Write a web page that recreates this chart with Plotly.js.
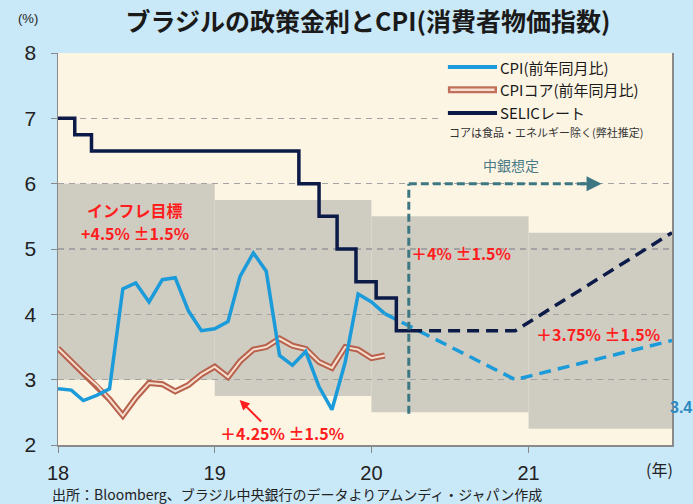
<!DOCTYPE html>
<html>
<head>
<meta charset="utf-8">
<script src="https://cdn.plot.ly/plotly-3.0.1.min.js"></script>
<style>html,body{margin:0;padding:0;background:#c9e8f8;}#chart{width:693px;height:504px;}</style>
</head>
<body>
<div id="chart"></div>
<script>
// ---- data ----
const months = ['2018-01-01','2018-02-01','2018-03-01','2018-04-01','2018-05-01','2018-06-01','2018-07-01','2018-08-01','2018-09-01','2018-10-01','2018-11-01','2018-12-01',
                '2019-01-01','2019-02-01','2019-03-01','2019-04-01','2019-05-01','2019-06-01','2019-07-01','2019-08-01','2019-09-01','2019-10-01','2019-11-01','2019-12-01',
                '2020-01-01','2020-02-01'];
const cpi = [2.86,2.84,2.68,2.76,2.86,4.39,4.48,4.19,4.53,4.56,4.05,3.75,
             3.78,3.89,4.58,4.94,4.66,3.37,3.22,3.43,2.89,2.54,3.27,4.31,
             4.19,4.01];
const cpiCore = [3.48,3.28,3.10,2.92,2.70,2.45,2.72,2.95,2.93,2.82,2.92,3.08,
                 3.20,3.04,3.28,3.46,3.50,3.63,3.52,3.47,3.27,3.18,3.50,3.46,
                 3.33,3.37];
const selicDates = ['2018-01-01','2018-02-09','2018-03-20','2019-07-16','2019-09-01','2019-10-13','2019-11-26','2020-01-12','2020-02-28','2020-03-31'];
const selicRates = [7.0,6.75,6.5,6.0,5.5,5.0,4.5,4.25,3.75,3.75];
const cpiProjDates = ['2020-02-01','2020-12-01','2021-12-01'];
const cpiProj = [4.01,3.0,3.6];
const selicProjDates = ['2020-03-31','2020-12-01','2021-12-01'];
const selicProj = [3.75,3.75,5.25];
const targetStart = ['2018-01-01','2019-01-01','2020-01-01','2021-01-01'];
const targetEnd = ['2019-01-01','2020-01-01','2021-01-01','2021-12-01'];
const targetCenter = [4.5,4.25,4.0,3.75];
const targetTol = 1.5;
const yearTicks = ['2018-01-01','2019-01-01','2020-01-01','2021-01-01'];
const yearLabels = ['18','19','20','21'];
const forecastStart = '2020-03-28';
const forecastArrowEnd = '2021-06-20';

// ---- styles ----
const JP = '"Noto Sans CJK JP", "Noto Sans", sans-serif';
const NUM = '"Liberation Sans", Arial, sans-serif';
const RED = '#ff1e1e';
const TEAL = '#3d7782';
const BLUE = '#1b9bd9';
const NAVY = '#0c1a48';

const traces = [
  {x: months, y: cpiCore, mode:'lines', line:{color:'#b8614c', width:6}, hoverinfo:'skip', showlegend:false},
  {x: months, y: cpiCore, mode:'lines', line:{color:'#f6dfcf', width:2}, name:'CPIコア(前年同月比)', showlegend:false},
  {x: months, y: cpi, mode:'lines', line:{color:BLUE, width:3.5}, name:'CPI(前年同月比)', showlegend:false},
  {x: cpiProjDates, y: cpiProj, mode:'lines', line:{color:BLUE, width:3.5, dash:'12px,7px'}, showlegend:false},
  {x: selicDates, y: selicRates, mode:'lines', line:{color:NAVY, width:3.5, shape:'hv'}, name:'SELICレート', showlegend:false},
  {x: selicProjDates, y: selicProj, mode:'lines', line:{color:NAVY, width:3.5, dash:'12px,7px'}, showlegend:false}
];

const shapes = [];
for (let i = 0; i < targetCenter.length; i++) {
  shapes.push({type:'rect', xref:'x', yref:'y', x0:targetStart[i], x1:targetEnd[i],
    y0:targetCenter[i]-targetTol, y1:targetCenter[i]+targetTol,
    fillcolor:'#cfccc2', line:{width:0}, layer:'below'});
}
// forecast marker (teal dashed)
shapes.push({type:'line', xref:'x', yref:'y', x0:forecastStart, x1:forecastStart, y0:2.48, y1:6.0,
  line:{color:TEAL, width:3, dash:'8px,4px'}});
shapes.push({type:'line', xref:'x', yref:'y', x0:forecastStart, x1:'2021-06-01', y0:6.0, y1:6.0,
  line:{color:TEAL, width:3, dash:'8px,4px'}});
// legend box
const lx0 = 0.635, lx1 = 0.715;
const rows = [0.964, 0.906, 0.847];
shapes.push({type:'rect', xref:'paper', yref:'paper', x0:0.622, x1:0.995, y0:0.775, y1:0.993,
  fillcolor:'#fdf5e4', line:{width:0}, layer:'above'});
shapes.push({type:'line', xref:'paper', yref:'paper', x0:lx0, x1:lx1, y0:rows[0], y1:rows[0], line:{color:BLUE, width:4}});
shapes.push({type:'line', xref:'paper', yref:'paper', x0:lx0, x1:lx1, y0:rows[1], y1:rows[1], line:{color:'#c0705a', width:7}});
shapes.push({type:'line', xref:'paper', yref:'paper', x0:lx0+0.004, x1:lx1-0.004, y0:rows[1], y1:rows[1], line:{color:'#f6dfcf', width:2.5}});
shapes.push({type:'line', xref:'paper', yref:'paper', x0:lx0, x1:lx1, y0:rows[2], y1:rows[2], line:{color:NAVY, width:4}});

const annotations = [
  {xref:'paper', yref:'paper', x:lx1+0.002, y:rows[0], xanchor:'left', yanchor:'middle', showarrow:false,
   text:'CPI(前年同月比)', font:{family:JP, size:15, color:'#1a1a1a'}},
  {xref:'paper', yref:'paper', x:lx1+0.002, y:rows[1], xanchor:'left', yanchor:'middle', showarrow:false,
   text:'CPIコア(前年同月比)', font:{family:JP, size:15, color:'#1a1a1a'}},
  {xref:'paper', yref:'paper', x:lx1+0.002, y:rows[2], xanchor:'left', yanchor:'middle', showarrow:false,
   text:'SELICレート', font:{family:JP, size:15, color:'#1a1a1a'}},
  {xref:'paper', yref:'paper', x:0.795, y:0.798, xanchor:'center', yanchor:'middle', showarrow:false,
   text:'コアは食品・エネルギー除く(弊社推定)', font:{family:JP, size:11, color:'#333'}},
  {xref:'paper', yref:'paper', x:-0.049, y:1.089, xanchor:'center', yanchor:'middle', showarrow:false,
   text:'(%)', font:{family:NUM, size:13, color:'#222'}},
  {xref:'paper', yref:'paper', x:0.98, y:-0.062, xanchor:'center', yanchor:'middle', showarrow:false,
   text:'(年)', font:{family:JP, size:16, color:'#222'}},
  {xref:'paper', yref:'paper', x:-0.013, y:-0.126, xanchor:'left', yanchor:'middle', showarrow:false,
   text:'出所：Bloomberg、ブラジル中央銀行のデータよりアムンディ・ジャパン作成', font:{family:JP, size:14, color:'#222'}},
  {xref:'x', yref:'y', x:'2018-06-30', y:5.6, showarrow:false, xanchor:'center', yanchor:'middle',
   text:'<b>インフレ目標</b>', font:{family:JP, size:16, color:RED}},
  {xref:'x', yref:'y', x:'2018-06-30', y:5.25, showarrow:false, xanchor:'center', yanchor:'middle',
   text:'<b>+4.5% ±1.5%</b>', font:{family:JP, size:16, color:RED}},
  {xref:'x', yref:'y', x:forecastStart, y:4.94, showarrow:false, xanchor:'left', yanchor:'middle',
   text:'<b>＋4% ±1.5%</b>', font:{family:JP, size:16, color:RED}},
  {xref:'x', yref:'y', x:'2021-01-13', y:3.70, showarrow:false, xanchor:'left', yanchor:'middle',
   text:'<b>＋3.75% ±1.5%</b>', font:{family:JP, size:16, color:RED}},
  {xref:'x', yref:'y', x:'2019-01-09', y:2.18, showarrow:false, xanchor:'left', yanchor:'middle',
   text:'<b>＋4.25% ±1.5%</b>', font:{family:JP, size:16, color:RED}},
  {xref:'x', yref:'y', x:'2019-02-28', y:2.69, ax:23, ay:23, showarrow:true, arrowhead:2, arrowsize:1, arrowwidth:2,
   arrowcolor:RED, text:''},
  {xref:'x', yref:'y', x:'2020-11-21', y:6.285, showarrow:false, xanchor:'center', yanchor:'middle',
   text:'中銀想定', font:{family:JP, size:14, color:'#4a7a85'}},
  {xref:'x', yref:'y', x:forecastArrowEnd, y:6.0, ax:-22, ay:0, showarrow:true, arrowhead:2, arrowsize:1, arrowwidth:3,
   arrowcolor:TEAL, text:''},
  {xref:'x', yref:'y', x:'2021-11-22', y:2.58, showarrow:false, xanchor:'left', yanchor:'middle',
   text:'<b>3.4</b>', font:{family:NUM, size:16, color:'#2f8ac0'}}
];

const layout = {
  width:693, height:504,
  paper_bgcolor:'#c9e8f8', plot_bgcolor:'#fdf5e4',
  margin:{l:58, r:21, t:53, b:59},
  title:{text:'<b>ブラジルの政策金利とCPI(消費者物価指数)</b>', xref:'container', yref:'container',
         x:0.531, y:0.955, xanchor:'center', yanchor:'middle',
         font:{family:JP, size:25, color:'#1a1a1a'}},
  showlegend:false,
  xaxis:{type:'date', range:['2018-01-01','2021-12-01'], tickvals:yearTicks, ticktext:yearLabels,
         ticks:'outside', ticklen:6, tickcolor:'#888', showgrid:false, showline:true, linecolor:'#8a8a8a', linewidth:1.5,
         tickfont:{family:NUM, size:20, color:'#222'}, ticklabelstandoff:3, zeroline:false},
  yaxis:{range:[2,8], dtick:1, tick0:2, ticks:'outside', ticklen:6, tickcolor:'#888',
         showgrid:true, gridcolor:'#a3a3a3', gridwidth:1.5, griddash:'6px,5px',
         showline:true, mirror:true, linecolor:'#8a8a8a', linewidth:1.5, zeroline:false,
         tickfont:{family:NUM, size:21, color:'#222'}, ticklabelstandoff:10},
  shapes:shapes,
  annotations:annotations
};

Plotly.newPlot('chart', traces, layout, {displayModeBar:false, staticPlot:true});
</script>
</body>
</html>
